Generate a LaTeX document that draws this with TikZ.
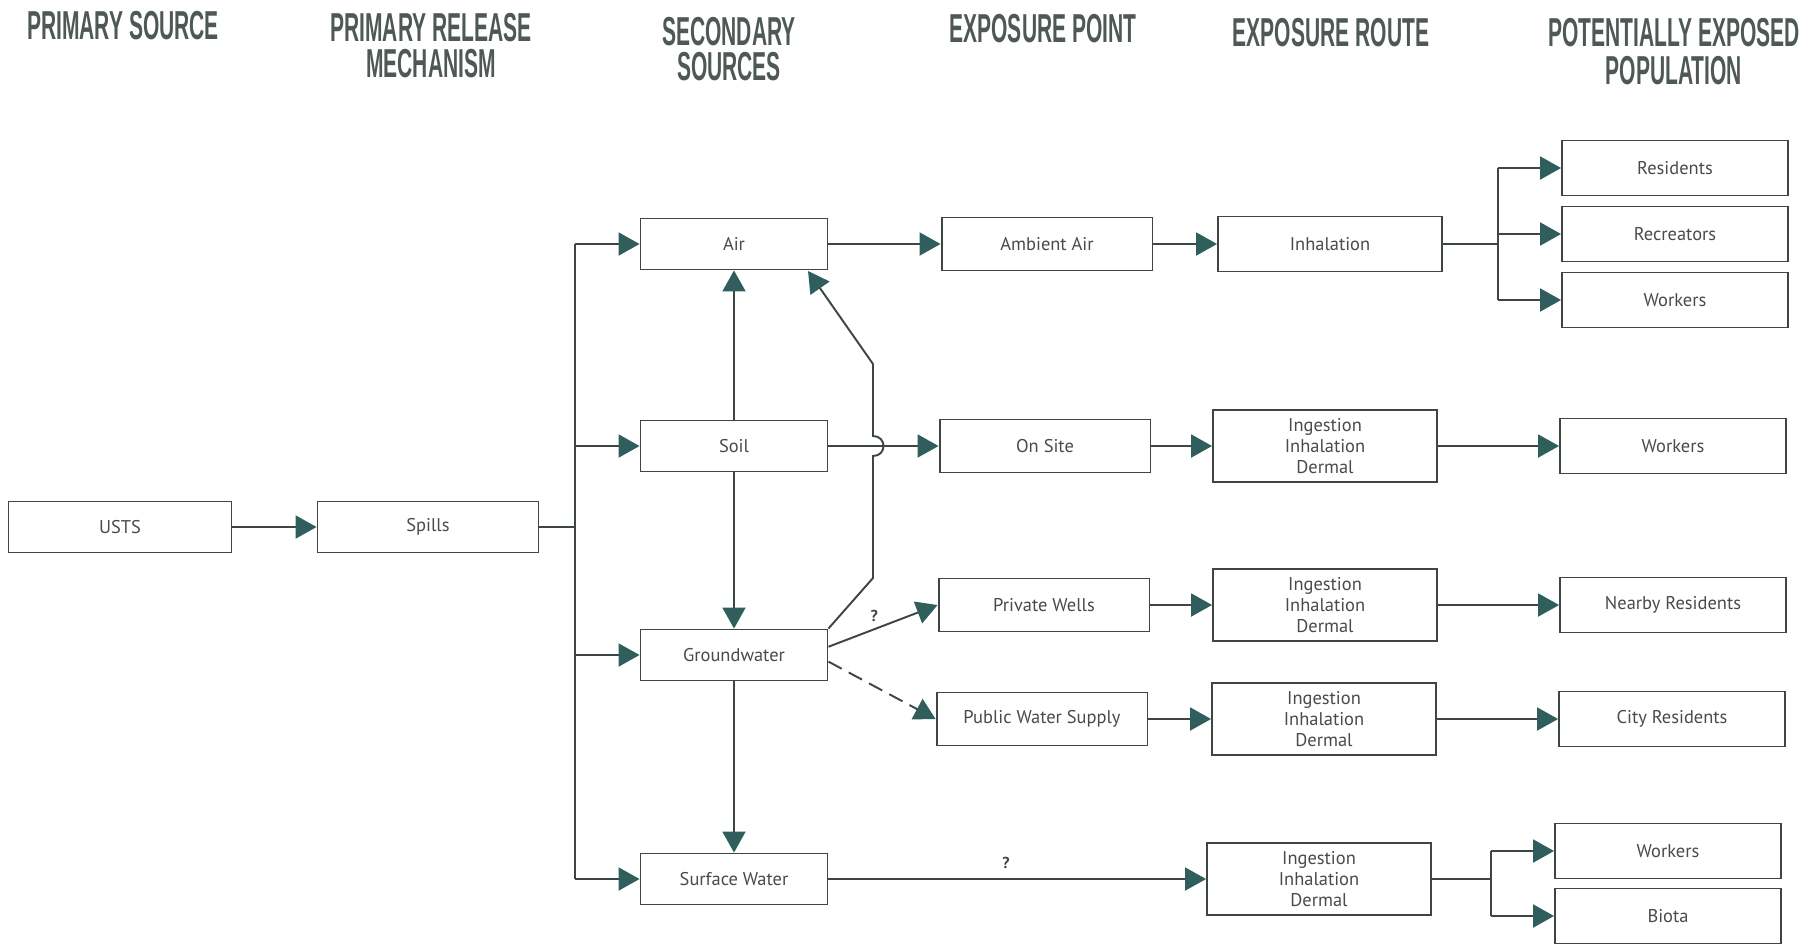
\documentclass[tikz,border=0pt]{standalone}
\usepackage{fontspec}
\setmainfont{PT Sans}
\newfontfamily\headfont[FakeStretch=0.52]{Liberation Sans}
\usetikzlibrary{arrows.meta}
\definecolor{lineGray}{HTML}{3E4545}
\definecolor{tipTeal}{HTML}{2F5E5C}
\definecolor{headGray}{HTML}{4E5956}
\definecolor{textGray}{HTML}{4A4A4A}
\tikzset{
  box/.style={draw=lineGray,line width=1.1pt,minimum width=#1,minimum height=1.02cm,
    inner sep=0pt,text=textGray,font=\fontsize{10.5}{12}\selectfont,align=center},
  box/.default=3.74cm,
  point/.style={box=4.22cm,minimum height=1.06cm},
  route/.style={box=4.48cm,minimum height=1.44cm},
  pop/.style={box=4.52cm,minimum height=1.1cm},
  link/.style={lineGray,line width=1.1pt},
  arr/.style={link,-{Triangle[length=0.42cm,width=0.46cm,color=tipTeal]}},
  qmark/.style={text=lineGray,font=\bfseries\fontsize{9}{10}\selectfont,inner sep=1pt},
  head/.style={text=headGray,font=\headfont\bfseries\fontsize{23}{23}\selectfont,inner sep=0pt},
}

\begin{document}
\begin{tikzpicture}[x=0.02cm,y=-0.02cm]
\useasboundingbox (0,0) rectangle (1801,944);

% Column headings, one node per printed line.
\node[head] (hSource) at (123,26) {PRIMARY SOURCE};
\node[head] (hRelease) at (431,28) {PRIMARY RELEASE};
\node[head] (hMechanism) at (431,64) {MECHANISM};
\node[head] (hSecondary) at (729,32) {SECONDARY};
\node[head] (hSources) at (729,67) {SOURCES};
\node[head] (hPoint) at (1043,29) {EXPOSURE POINT};
\node[head] (hRoute) at (1331,33) {EXPOSURE ROUTE};
\node[head] (hPotential) at (1674,33) {POTENTIALLY EXPOSED};
\node[head] (hPopulation) at (1674,71) {POPULATION};

% Source and release.
\node[box=4.46cm] (usts) at (120,527) {USTS};
\node[box=4.42cm] (spills) at (428,527) {Spills};

% Secondary sources.
\node[box] (air) at (734,244) {Air};
\node[box] (soil) at (734,446) {Soil};
\node[box] (gw) at (734,655) {Groundwater};
\node[box] (sw) at (734,879) {Surface Water};

% Exposure points.
\node[point] (ambient) at (1047,244) {Ambient Air};
\node[point] (onsite) at (1045,446) {On Site};
\node[point] (wells) at (1044,605) {Private Wells};
\node[point] (pws) at (1042,719) {Public Water Supply};

% Exposure routes.
\node[route,minimum height=1.1cm] (inh) at (1330,244) {Inhalation};
\node[route] (routeSoil) at (1325,446) {Ingestion\\Inhalation\\Dermal};
\node[route] (routeWells) at (1325,605) {Ingestion\\Inhalation\\Dermal};
\node[route] (routePublic) at (1324,719) {Ingestion\\Inhalation\\Dermal};
\node[route] (routeSurface) at (1319,879) {Ingestion\\Inhalation\\Dermal};

% Receptors.
\node[pop] (residents) at (1675,168) {Residents};
\node[pop] (recreators) at (1675,234) {Recreators};
\node[pop] (workersAir) at (1675,300) {Workers};
\node[pop] (workersSoil) at (1673,446) {Workers};
\node[pop] (nearby) at (1673,605) {Nearby Residents};
\node[pop] (city) at (1672,719) {City Residents};
\node[pop] (workersSurface) at (1668,851) {Workers};
\node[pop] (biota) at (1668,916) {Biota};

% Spills feed every secondary source through one bus.
\coordinate (spillBus) at (575,527);
\draw[arr] (usts) -- (spills);
\draw[link] (spills.east) -- (spillBus);
\draw[link] (spillBus |- air) -- (spillBus |- sw);
\foreach \t in {air,soil,gw,sw}
  \draw[arr] (spillBus |- \t) -- (\t.west);

% Transfers between media.
\draw[arr] (soil) -- (air);
\draw[arr] (soil) -- (gw);
\draw[arr] (gw) -- (sw);
\coordinate (airIn) at (808,271);
\draw[arr] (gw.north east) -- (873,578) -- (873,456)
  .. controls (887,456) and (887,436) .. (873,436) -- (873,364) -- (airIn);
\draw[arr] (gw.5) -- node[qmark,pos=0.42,above=3pt] {?} (wells.west);
\draw[arr,dash pattern=on 0.3cm off 0.16cm] (gw.-4) -- (pws.west);
\draw[arr] (sw) -- node[qmark,pos=0.47,above=0.16cm] {?} (routeSurface);

% Straight chains along each row.
\foreach \a/\b in {air/ambient,ambient/inh,soil/onsite,onsite/routeSoil,
    routeSoil/workersSoil,wells/routeWells,routeWells/nearby,
    pws/routePublic,routePublic/city}
  \draw[arr] (\a) -- (\b);

% Split to several receptors.
\coordinate (inhBus) at (1498,244);
\draw[link] (inh.east) -- (inhBus);
\draw[link] (inhBus |- residents) -- (inhBus |- workersAir);
\foreach \t in {residents,recreators,workersAir}
  \draw[arr] (inhBus |- \t) -- (\t.west);
\coordinate (swBus) at (1491,879);
\draw[link] (routeSurface.east) -- (swBus);
\draw[link] (swBus |- workersSurface) -- (swBus |- biota);
\foreach \t in {workersSurface,biota}
  \draw[arr] (swBus |- \t) -- (\t.west);

\end{tikzpicture}
\end{document}
